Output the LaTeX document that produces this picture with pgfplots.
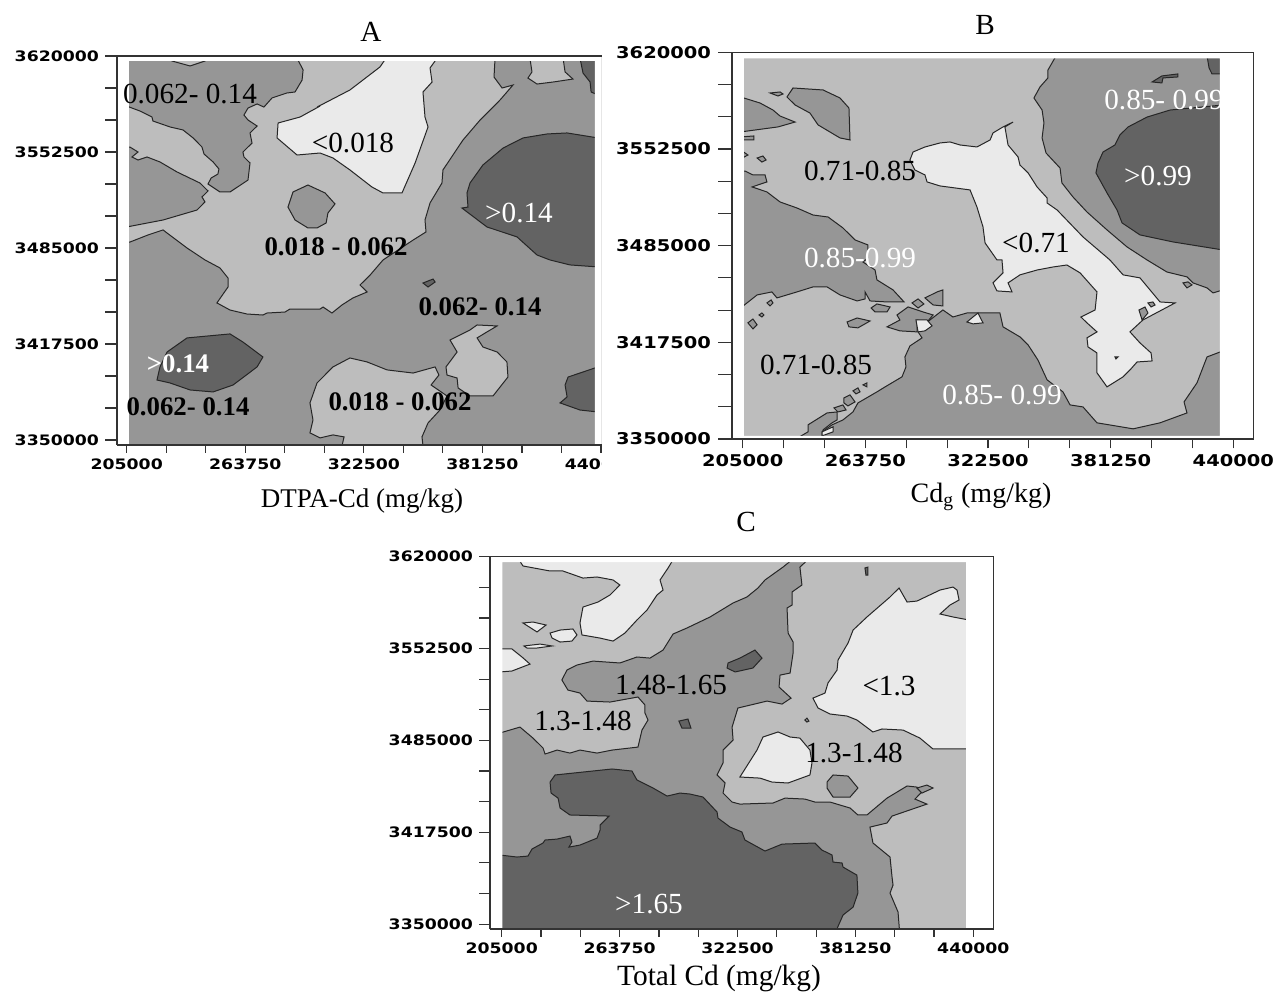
\documentclass[border=0pt]{standalone}
\usepackage{pgfplots}
\pgfplotsset{compat=1.18}
\usepackage{fontspec}
\setmainfont{Liberation Serif}
\newfontfamily\tickfam[FakeStretch=1.2]{DejaVu Sans}
\definecolor{cW}{HTML}{EAEAEA}
\definecolor{cL}{HTML}{BDBDBD}
\definecolor{cM}{HTML}{969696}
\definecolor{cD}{HTML}{636363}
\newcommand\tickf{\tickfam\bfseries\fontsize{7.2}{7.2}\selectfont}
\newcommand\tickfB{\tickfam\bfseries\fontsize{8.1}{8.1}\selectfont}
\newcommand\labf{\fontsize{14.6}{14.6}\selectfont}
\newcommand\boldf{\bfseries\fontsize{13.4}{13.4}\selectfont}
\pgfplotsset{
  frame common/.style={scale only axis, anchor=south west, tick align=outside, scaled ticks=false,
    axis line style={-,line width=0.6pt,draw=black!80},
    tick style={line width=0.6pt,draw=black!80}},
  main map/.style={frame common, axis on top, axis x line*=bottom, axis y line*=left,
    y axis line style={-,line width=1pt,draw=black!80},
    x axis line style={-},
    major tick length=3.75pt, minor tick length=3.75pt,
    ytick=\empty,
    xtick={205000,263750,322500,381250,440000},
    xticklabels={205000,263750,322500,381250,440000},
    minor xtick={224583,244167,283333,302917,342083,361667,400833,420417},
    xticklabel style={font=\tickf, inner sep=0pt, yshift=-3pt}},
  y map/.style={frame common, xtick=\empty, ytick pos=left,
    major tick length=6pt, minor tick length=6pt,
    ytick={3350000,3417500,3485000,3552500,3620000},
    yticklabels={3350000,3417500,3485000,3552500,3620000},
    minor ytick={3372500,3395000,3440000,3462500,3507500,3530000,3575000,3597500},
    yticklabel style={font=\tickf, inner sep=0pt}},
  poly/.style={draw=black!85, line width=0.5pt, fill=#1},
  base/.style={draw=none, fill=#1}
}
\begin{document}
\begin{tikzpicture}[x=0.5pt,y=-0.5pt]
\path[use as bounding box] (0,0) rectangle (1275,992);

% ---------- Panel A ----------
\begin{axis}[main map, at={(58.65pt,-222.5pt)}, width=242.2pt, height=194.5pt,
  xmin=200342, xmax=440350, ymin=3346500, ymax=3620000]
\addplot[base=cM] coordinates {(200000,3340000)(445000,3340000)(445000,3625000)(200000,3625000)} -- cycle;
% main light region
\addplot[poly=cL] coordinates {(205000,3584800)(211600,3581300)(217500,3577100)(218000,3574300)(226500,3570100)(232900,3568000)(237900,3562400)(242300,3556000)(243300,3551100)(247800,3545500)(250700,3540600)(250200,3537000)(246800,3534200)(245300,3530000)(251200,3524400)(256200,3524400)(265100,3532800)(266100,3544800)(263100,3549000)(262600,3552500)(267100,3558800)(266100,3565900)(269600,3570800)(265100,3575000)(263100,3578500)(265100,3583400)(269600,3586300)(273000,3584100)(277000,3590500)(284400,3594000)(288400,3594700)(291900,3603100)(292400,3610200)(289400,3618500)(387500,3618500)(387000,3605200)(391000,3597500)(396400,3599600)(390000,3589100)(380100,3575000)(371600,3560900)(361700,3539900)(361200,3530700)(355300,3516700)(352800,3504700)(353300,3496300)(346900,3490600)(332000,3476600)(325600,3466000)(320600,3459000)(324100,3454100)(317100,3449900)(311700,3445000)(306700,3439300)(302300,3443500)(300800,3442100)(285900,3442100)(283400,3440000)(274500,3439300)(272500,3437900)(264600,3438600)(256200,3441400)(249700,3446400)(255200,3457600)(255200,3463900)(251200,3471000)(243800,3476600)(234900,3485000)(223000,3497700)(215600,3494200)(206600,3489200)(205000,3489200)(205000,3499800)(223000,3504700)(231400,3508200)(239800,3511700)(243800,3517400)(242300,3520900)(245300,3525100)(241300,3530700)(229900,3538500)(221500,3545500)(215100,3549000)(210600,3546900)(207600,3549000)(210600,3552500)(206600,3556000)(205000,3556000)} -- cycle;
% lightest
\addplot[poly=cW] coordinates {(300800,3584800)(290900,3577100)(280000,3572900)(279500,3562400)(289400,3550400)(300800,3551800)(307200,3548300)(315600,3539900)(326500,3527900)(332000,3523700)(341400,3523700)(347900,3544800)(354300,3570100)(352800,3577100)(351800,3594700)(356300,3601700)(355300,3611600)(358800,3618500)(333500,3618500)(330500,3612300)(315600,3596100)(299300,3584100)} -- cycle;
% circle
\addplot[poly=cM] coordinates {(294800,3529300)(287400,3524400)(284900,3513800)(288400,3504700)(294800,3499100)(299300,3499100)(303800,3502600)(304700,3509600)(308200,3516000)(303300,3523700)} -- cycle;
% top bits
\addplot[poly=cL] coordinates {(227400,3618500)(227400,3616500)(236400,3613000)(243800,3616500)(243800,3618500)} -- cycle;
\addplot[poly=cL] coordinates {(404800,3618500)(405800,3608800)(403800,3604500)(408300,3600300)(416200,3601700)(426100,3603800)(422200,3608800)(421200,3618500)} -- cycle;
\addplot[poly=cD] coordinates {(429600,3618500)(431100,3608000)(434600,3601700)(435100,3594700)(438500,3592600)(438500,3618500)} -- cycle;
% dark regions
\addplot[poly=cD] coordinates {(438500,3562400)(423200,3565900)(413300,3565200)(401400,3562400)(391500,3555300)(381500,3543400)(375100,3530700)(373600,3523700)(374100,3513800)(371100,3513100)(383500,3499800)(398400,3492800)(408300,3480100)(414700,3476600)(424700,3473100)(438500,3471700)} -- cycle;
\addplot[poly=cD] coordinates {(220000,3392200)(221500,3401400)(225000,3411900)(234900,3421800)(256200,3424600)(262600,3418900)(272500,3408400)(269600,3401400)(257700,3388700)(247800,3383800)(236400,3385200)(226500,3390100)} -- cycle;
\addplot[poly=cD] coordinates {(438500,3401400)(423700,3394300)(422200,3388700)(423200,3380300)(419700,3376100)(429600,3371100)(438500,3369700)} -- cycle;
\addplot[poly=cD] coordinates {(351800,3460400)(356800,3463200)(357800,3461100)(354300,3457600)} -- cycle;
% lower light
\addplot[poly=cL] coordinates {(295800,3355000)(297300,3364100)(295800,3376100)(299300,3390100)(307200,3401400)(315600,3407700)(324100,3404900)(334000,3399300)(346900,3397100)(357800,3401400)(359700,3395700)(355800,3388700)(363700,3381000)(360200,3371100)(354300,3362000)(351300,3352200)(352300,3340000)(310700,3340000)(312700,3352200)(307200,3353600)(300800,3351500)} -- cycle;
\addplot[poly=cL] coordinates {(378600,3430900)(388500,3430200)(383500,3426000)(378600,3421800)(381500,3415400)(388500,3411900)(393400,3404900)(393900,3394300)(386500,3381000)(375100,3381000)(369200,3386600)(368700,3393600)(363700,3395700)(363200,3401400)(368700,3411900)(365200,3420300)(375100,3427400)} -- cycle;
% white outside the filled square
\addplot[base=white] coordinates {(200000,3340000)(445000,3340000)(445000,3625000)(200000,3625000)(200000,3340000)(206100,3340000)(206100,3616500)(437000,3616500)(437000,3340000)(206100,3340000)(200000,3340000)} -- cycle;
\end{axis}
\begin{axis}[y map, at={(58.65pt,-222.5pt)}, width=242.2pt, height=194.5pt,
  axis x line*=top, axis y line*=left, x axis line style={-}, y axis line style={-},
  yticklabel style={xshift=-3pt},
  xmin=200342, xmax=440350, ymin=3346500, ymax=3620000]
\end{axis}
\fill[white] (602,447) rectangle (645,480);
\node[font=\labf] at (371,32) {A};
\node[font=\labf] at (190,94) {0.062- 0.14};
\node[font=\labf] at (353,143) {<0.018};
\node[font=\labf,text=white] at (519,213) {>0.14};
\node[font=\boldf] at (336,247) {0.018 - 0.062};
\node[font=\boldf] at (480,307) {0.062- 0.14};
\node[font=\boldf,text=white] at (178,364) {>0.14};
\node[font=\boldf] at (188,407) {0.062- 0.14};
\node[font=\boldf] at (400,402) {0.018 - 0.062};
\node[font=\fontsize{13.5}{13.5}\selectfont] at (362,501) {DTPA-Cd (mg/kg)};

% ---------- Panel B ----------
\begin{axis}[main map, at={(366.15pt,-219.5pt)}, width=260.7pt, height=193.35pt,
  major tick length=4.7pt, minor tick length=4.7pt, xticklabel style={font=\tickfB},
  xmin=200018, xmax=449770, ymin=3350000, ymax=3620000]
\addplot[base=cL] coordinates {(200000,3340000)(450000,3340000)(450000,3625000)(200000,3625000)} -- cycle;
% upper right medium
\addplot[poly=cM] coordinates {(355100,3617500)(351200,3607600)(351200,3602100)(347400,3595800)(344500,3588100)(348400,3579700)(349300,3570700)(348400,3560200)(350300,3549700)(357000,3539200)(357900,3528800)(363200,3519000)(369900,3508500)(379500,3496000)(389100,3484100)(398700,3475000)(408200,3466600)(417800,3463200)(420700,3459000)(427400,3455500)(430300,3452000)(435000,3454100)(435000,3617500)} -- cycle;
\addplot[poly=cD] coordinates {(435000,3583200)(409700,3579700)(398700,3574800)(389600,3567900)(385700,3562300)(383300,3555300)(377600,3550400)(375200,3542700)(374200,3535800)(379500,3521800)(384300,3509900)(386700,3500900)(395300,3492500)(411100,3487600)(435000,3482000)} -- cycle;
\addplot[poly=cD] coordinates {(427400,3617500)(428400,3609000)(429800,3604900)(435000,3604900)(435000,3617500)} -- cycle;
\addplot[poly=cD] coordinates {(401100,3599300)(405800,3603500)(413500,3604900)(413500,3602800)(406300,3602100)(405800,3598600)} -- cycle;
% lightest band
\addplot[poly=cW] coordinates {(304300,3557400)(299500,3556700)(292300,3553900)(286600,3550400)(285100,3544800)(287500,3537800)(292300,3534400)(293300,3529500)(299500,3526700)(313900,3523900)(317200,3512000)(320100,3498100)(321100,3486900)(326800,3475000)(329200,3475000)(329700,3466000)(324900,3459000)(326800,3453400)(334000,3452700)(332100,3459000)(337800,3464600)(346000,3468000)(353600,3470100)(360300,3471500)(366600,3466000)(374700,3452700)(373800,3440100)(367000,3435200)(369900,3431100)(374700,3424800)(369900,3420600)(370400,3414300)(374700,3410100)(374700,3396200)(379500,3386400)(387200,3393400)(390500,3398200)(393900,3403800)(401100,3404500)(400600,3410100)(395300,3417100)(390500,3424800)(396700,3433100)(412100,3445000)(404900,3445700)(400100,3454100)(395300,3462500)(387200,3464600)(380900,3475000)(368000,3491100)(355600,3509900)(350800,3514800)(350800,3518300)(346000,3526000)(341700,3535800)(337800,3541300)(336900,3546900)(332100,3555300)(330600,3567900)(334500,3571300)(329700,3567900)(324900,3563700)(323500,3558800)(317200,3553900)(309100,3555300)} -- cycle;
% medium left
\addplot[poly=cM] coordinates {(204000,3588800)(213300,3584600)(219500,3579700)(222900,3575500)(230100,3571300)(221900,3567900)(204000,3564400)} -- cycle;
\addplot[poly=cM] coordinates {(226200,3588800)(229100,3595100)(243500,3593700)(251600,3588100)(255900,3581100)(256400,3558800)(251600,3560200)(241100,3569300)(237200,3577600)(230100,3583200)} -- cycle;
\addplot[poly=cM] coordinates {(218100,3591600)(222900,3592300)(224300,3590900)(221900,3589500)} -- cycle;
\addplot[poly=cM] coordinates {(204000,3560900)(210400,3561600)(210400,3558800)(204000,3558800)} -- cycle;
\addplot[poly=cM] coordinates {(211900,3546200)(214700,3547600)(216200,3544800)(214200,3543400)} -- cycle;
\addplot[poly=cM] coordinates {(204000,3551800)(207500,3548300)(204000,3545500)} -- cycle;
\addplot[poly=cM] coordinates {(204000,3537100)(206100,3537100)(209900,3534400)(215700,3534400)(216600,3529500)(209500,3526000)(216600,3522500)(222900,3515500)(231000,3511300)(238700,3506400)(245900,3505000)(253000,3497400)(258800,3489000)(265000,3485500)(265000,3476400)(262600,3473600)(268400,3468000)(269300,3461100)(277000,3454100)(282300,3445700)(274100,3445700)(266000,3446400)(263600,3452700)(263600,3447800)(259800,3446400)(251600,3450600)(245400,3456200)(238700,3456200)(231000,3452700)(221400,3448500)(219000,3452700)(211900,3450600)(204000,3441500)} -- cycle;
\addplot[poly=cM] coordinates {(266500,3441500)(269300,3444300)(275600,3442200)(274100,3438700)(268400,3438700)} -- cycle;
\addplot[poly=cM] coordinates {(255000,3431700)(259800,3434500)(266000,3432400)(260200,3427600)(255900,3428300)} -- cycle;
\addplot[poly=cM] coordinates {(286100,3445000)(289000,3447800)(291800,3444300)(289000,3441500)} -- cycle;
\addplot[poly=cM] coordinates {(292300,3448500)(298100,3452700)(300900,3454100)(300900,3442900)(296200,3443600)} -- cycle;
\addplot[poly=cM] coordinates {(274100,3428300)(280300,3433100)(278900,3436600)(284200,3442200)(291400,3438700)(296200,3436600)(293300,3431700)(288500,3433100)(288500,3424800)(280300,3425500)} -- cycle;
\addplot[poly=cM] coordinates {(207500,3431100)(209900,3433800)(211900,3429700)(209900,3426900)} -- cycle;
\addplot[poly=cM] coordinates {(212800,3436600)(214200,3438000)(215200,3436600)(214200,3435200)} -- cycle;
\addplot[poly=cM] coordinates {(216600,3445000)(218600,3447100)(219500,3445000)(218100,3442900)} -- cycle;
\addplot[poly=cM] coordinates {(257800,3383600)(260200,3385700)(261200,3382900)(259300,3381500)} -- cycle;
\addplot[poly=cM] coordinates {(262600,3387800)(264500,3389200)(264500,3386400)} -- cycle;
\addplot[poly=cM] coordinates {(253500,3378700)(256400,3380800)(258800,3375900)(255400,3373100)(253500,3375200)} -- cycle;
\addplot[poly=cM] coordinates {(248700,3371700)(253000,3373800)(254500,3370300)(250600,3368900)} -- cycle;
\addplot[poly=cM] coordinates {(231000,3350500)(236300,3355000)(236300,3359900)(245400,3368200)(250200,3368900)(250200,3363300)(247800,3361300)(243500,3356400)(243000,3350500)} -- cycle;
% lower right medium
\addplot[poly=cM] coordinates {(243000,3355000)(247800,3359900)(253000,3363300)(257800,3368900)(260200,3375200)(269300,3382900)(273200,3386400)(281300,3393400)(283200,3400300)(282700,3407300)(285100,3415000)(290900,3420600)(289000,3424800)(294700,3433100)(300900,3440100)(305700,3435200)(312400,3438000)(328200,3438000)(329700,3428300)(337800,3421300)(341700,3415700)(346400,3405200)(350800,3391300)(358400,3382900)(361800,3373800)(368000,3372400)(374700,3361300)(392000,3357100)(404900,3361300)(417800,3368200)(416400,3375900)(422600,3389200)(427400,3407300)(435000,3411500)(435000,3350500)(243000,3350500)} -- cycle;
% small light shapes
\addplot[poly=cW] coordinates {(288000,3433100)(293300,3433100)(295700,3429000)(292300,3425500)(289000,3424800)} -- cycle;
\addplot[poly=cW] coordinates {(243000,3352200)(248300,3355000)(248300,3358500)(243000,3355000)} -- cycle;
\addplot[poly=cW] coordinates {(312400,3431700)(315300,3435200)(317700,3438000)(320100,3431100)(315300,3430400)} -- cycle;
\addplot[poly=cM] coordinates {(399100,3445000)(401500,3445700)(402500,3443600)(400600,3442200)} -- cycle;
\addplot[poly=cM] coordinates {(394800,3440100)(397700,3442200)(399100,3438000)(396300,3433100)} -- cycle;
\addplot[poly=cD] coordinates {(383300,3407300)(384800,3407300)(383800,3405900)} -- cycle;
\addplot[poly=cM] coordinates {(415900,3459000)(418300,3459700)(420200,3457600)(417800,3455500)} -- cycle;
% white outside the filled square
\addplot[base=white] coordinates {(200000,3340000)(450000,3340000)(450000,3625000)(200000,3625000)(200000,3340000)(205500,3352200)(205500,3615800)(433600,3615800)(433600,3352200)(205500,3352200)(200000,3340000)} -- cycle;
\end{axis}
\begin{axis}[y map, at={(366.15pt,-219.5pt)}, width=260.7pt, height=193.35pt,
  major tick length=7pt, minor tick length=7pt,
  yticklabel style={font=\tickfB, xshift=-3.5pt},
  xmin=200018, xmax=449770, ymin=3350000, ymax=3620000]
\end{axis}
\node[font=\labf] at (985,25) {B};
\node[font=\labf,text=white] at (1164,100) {0.85- 0.99};
\node[font=\labf,text=white] at (1158,176) {>0.99};
\node[font=\labf] at (860,171) {0.71-0.85};
\node[font=\labf] at (1036,243) {<0.71};
\node[font=\labf,text=white] at (860,258) {0.85-0.99};
\node[font=\labf] at (816,365) {0.71-0.85};
\node[font=\labf,text=white] at (1002,395) {0.85- 0.99};
\node[font=\fontsize{14}{14}\selectfont] at (981,497) {Cd\textsubscript{g} (mg/kg)};

% ---------- Panel C ----------
\begin{axis}[main map, at={(245.15pt,-464.5pt)}, width=251.7pt, height=186.15pt,
  xmin=199319, xmax=450164, ymin=3346400, ymax=3620000]
\addplot[base=cL] coordinates {(199000,3340000)(451000,3340000)(451000,3625000)(199000,3625000)} -- cycle;
% lightest top
\addplot[poly=cW] coordinates {(213600,3617800)(215600,3613200)(229100,3609500)(235500,3609500)(245500,3604300)(252500,3605100)(260500,3602900)(263900,3599200)(259000,3591900)(253000,3586700)(245500,3583000)(244000,3571300)(245000,3562500)(254000,3560200)(260500,3558000)(266400,3563900)(272400,3573500)(277400,3580800)(282400,3591900)(285400,3595500)(283900,3602900)(287900,3611700)(290400,3617800)} -- cycle;
\addplot[poly=cW] coordinates {(215600,3571300)(220600,3572000)(227100,3569800)(222600,3564700)} -- cycle;
\addplot[poly=cW] coordinates {(229100,3563900)(234100,3566100)(240500,3566900)(242500,3562500)(240000,3558000)(234100,3557300)(230100,3560200)} -- cycle;
\addplot[poly=cW] coordinates {(216100,3554400)(224100,3555800)(230100,3554400)(222600,3552900)(217600,3552900)} -- cycle;
\addplot[poly=cW] coordinates {(204000,3552200)(210100,3552200)(215100,3546300)(219100,3541100)(210100,3536000)(204000,3535300)} -- cycle;
% medium main
\addplot[poly=cM] coordinates {(204000,3340000)(204000,3490400)(214100,3494800)(220600,3486700)(225600,3479400)(226600,3475000)(232600,3477900)(239000,3475700)(244000,3477900)(252500,3475700)(260000,3477900)(272900,3480100)(274900,3492600)(277900,3500000)(276400,3505100)(276400,3511000)(272900,3516900)(259000,3513200)(247500,3513900)(244000,3519800)(238000,3522000)(235000,3529400)(237500,3536700)(242500,3540400)(250500,3543300)(263900,3541900)(272400,3546300)(278900,3545500)(285400,3551400)(290400,3563200)(297300,3567600)(308800,3575700)(320300,3586000)(327200,3590400)(332700,3597000)(336200,3602900)(345200,3612400)(349700,3617800)(357600,3617800)(353600,3612400)(354600,3599200)(349700,3594100)(349700,3584500)(347200,3582300)(347700,3563900)(350200,3557300)(350200,3549200)(348700,3534500)(343700,3533000)(343200,3524200)(349200,3516100)(344700,3511700)(337200,3513900)(322700,3508800)(319800,3494800)(320300,3485300)(315300,3477900)(315300,3468400)(312300,3459600)(316300,3453700)(315300,3446300)(319800,3439700)(323700,3438200)(340200,3439000)(346200,3442600)(356100,3441900)(361100,3439700)(368600,3439700)(378600,3435300)(382500,3430200)(387000,3430200)(397000,3442600)(407000,3451500)(411900,3450700)(414400,3447100)(410900,3441900)(416900,3438200)(399500,3429400)(397000,3424300)(388500,3421300)(390000,3409600)(398500,3399300)(399500,3384600)(400000,3378700)(398500,3372800)(402500,3358900)(403500,3340000)} -- cycle;
% dark main
\addplot[poly=cD] coordinates {(204000,3340000)(204000,3400800)(212600,3399300)(218100,3400000)(220100,3405200)(225600,3409600)(226600,3411800)(232600,3412500)(239000,3414700)(240000,3410300)(238500,3406600)(244000,3408100)(252500,3413200)(254000,3419100)(254000,3422800)(258500,3429400)(239000,3430200)(234100,3435300)(233100,3442600)(229600,3446300)(229100,3454400)(231600,3459600)(260000,3464000)(269900,3462500)(272400,3455900)(280400,3450000)(287400,3444100)(293800,3446300)(298800,3445600)(305300,3443400)(312300,3432400)(312800,3427900)(318800,3421300)(324700,3417700)(326200,3411800)(336200,3403700)(344700,3408800)(361100,3409600)(364600,3404400)(369600,3400800)(370100,3395600)(374600,3394900)(375100,3391900)(382000,3386000)(382500,3372800)(380100,3362500)(375100,3356700)(370100,3340000)} -- cycle;
% lightest centre
\addplot[poly=cW] coordinates {(332200,3477900)(335200,3487500)(342700,3491200)(348700,3487500)(353600,3486700)(358600,3477900)(359600,3468400)(358600,3459600)(347700,3453700)(339700,3454400)(333700,3457300)(323700,3458100)} -- cycle;
% lightest right
\addplot[poly=cW] coordinates {(360100,3516100)(366100,3519800)(367600,3527200)(372100,3536700)(372600,3544100)(377600,3556600)(380100,3566100)(387000,3575700)(398500,3590400)(403000,3597000)(407000,3586700)(411900,3587400)(423400,3595500)(429900,3597700)(431900,3595500)(432900,3588200)(428400,3584500)(423400,3577900)(429900,3575700)(437800,3573500)(437800,3478700)(419900,3478700)(413400,3486700)(405000,3492600)(394500,3493400)(390000,3491200)(382000,3500000)(377100,3502900)(368600,3504400)(362600,3508800)} -- cycle;
% small dark and medium shapes
\addplot[poly=cD] coordinates {(317800,3541900)(323700,3545500)(331200,3551400)(334700,3545500)(330200,3538200)(321300,3535300)(317300,3538200)} -- cycle;
\addplot[poly=cD] coordinates {(293300,3499200)(297800,3500700)(299300,3494100)(294800,3494100)} -- cycle;
\addplot[poly=cM] coordinates {(367100,3454400)(370100,3459600)(377600,3458800)(382500,3450000)(378600,3443400)(370100,3443400)(367100,3450000)} -- cycle;
\addplot[poly=cM] coordinates {(411900,3450000)(416900,3452200)(419900,3450000)(414400,3446300)} -- cycle;
\addplot[poly=cD] coordinates {(386000,3611700)(387500,3612400)(387500,3606500)(386500,3606500)} -- cycle;
\addplot[poly=cM] coordinates {(356100,3500000)(357100,3501400)(358100,3499200)(357100,3498500)} -- cycle;
% white outside the filled square
\addplot[base=white] coordinates {(199000,3340000)(451000,3340000)(451000,3625000)(199000,3625000)(199000,3340000)(205300,3340000)(205300,3616100)(436400,3616100)(436400,3340000)(205300,3340000)(199000,3340000)} -- cycle;
\end{axis}
\begin{axis}[y map, at={(245.15pt,-464.5pt)}, width=251.7pt, height=186.15pt,
  major tick length=5.5pt, minor tick length=5.5pt,
  yticklabel style={xshift=-3pt},
  xmin=199319, xmax=450164, ymin=3346400, ymax=3620000]
\end{axis}
\node[font=\labf] at (746,522) {C};
\node[font=\labf] at (671,685) {1.48-1.65};
\node[font=\labf] at (583,721) {1.3-1.48};
\node[font=\labf] at (889,686) {<1.3};
\node[font=\labf] at (854,753) {1.3-1.48};
\node[font=\labf,text=white] at (649,904) {>1.65};
\node[font=\fontsize{14.7}{14.7}\selectfont] at (719,978) {Total Cd (mg/kg)};
\end{tikzpicture}
\end{document}
